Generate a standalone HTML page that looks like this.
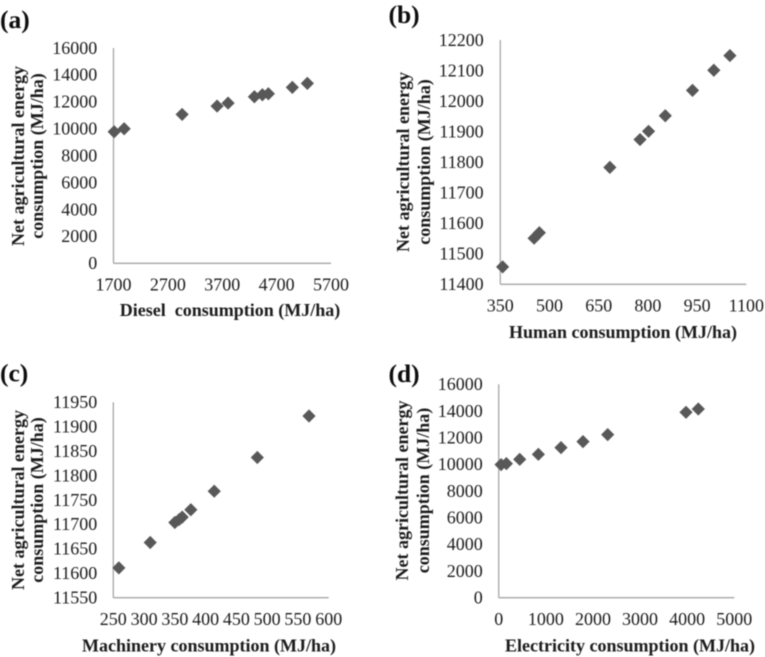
<!DOCTYPE html>
<html>
<head>
<meta charset="utf-8">
<style>
html,body{margin:0;padding:0;background:#fff;width:765px;height:657px;overflow:hidden}
svg{display:block}
text{font-family:"Liberation Serif",serif;fill:#1f1f1f}
.tick{font-size:18px}
.title{font-size:18px;font-weight:bold}
.panel{font-size:25.5px;font-weight:bold;fill:#111}
</style>
</head>
<body>
<svg id="figure" xmlns="http://www.w3.org/2000/svg" width="765" height="657" viewBox="0 0 765 657">
<defs><filter id="soft" x="-5%" y="-5%" width="110%" height="110%"><feGaussianBlur stdDeviation="0.45"/></filter></defs>
<g id="root" filter="url(#soft)"></g>
</svg>
<script>
// (a) Diesel
const dieselX = [1712,1896,2962,3605,3807,4291,4438,4548,4989,5265];
const dieselY = [9774,9997,11064,11684,11907,12378,12527,12602,13073,13370];
const dieselXTicks = [1700,2700,3700,4700,5700];
const dieselYTicks = [0,2000,4000,6000,8000,10000,12000,14000,16000];
// (b) Human
const humanX = [357,453,469,684,776,802,853,936,1001,1050];
const humanY = [11457,11551,11569,11783,11874,11901,11952,12035,12101,12149];
const humanXTicks = [350,500,650,800,950,1100];
const humanYTicks = [11400,11500,11600,11700,11800,11900,12000,12100,12200];
// (c) Machinery
const machineryX = [259,310,350,357,362,376,414,484,568];
const machineryY = [11611,11663,11704,11710,11715,11730,11768,11837,11922];
const machineryXTicks = [250,300,350,400,450,500,550,600];
const machineryYTicks = [11550,11600,11650,11700,11750,11800,11850,11900,11950];
// (d) Electricity
const electricityX = [50,163,446,842,1322,1789,2313,3975,4236];
const electricityY = [9975,10050,10375,10750,11250,11700,12225,13900,14150];
const electricityXTicks = [0,1000,2000,3000,4000,5000];
const electricityYTicks = [0,2000,4000,6000,8000,10000,12000,14000,16000];

const NS = 'http://www.w3.org/2000/svg';
const root = document.getElementById('root');

function make(tag, parent, attrs, txt) {
  const el = document.createElementNS(NS, tag);
  for (const k in attrs) el.setAttribute(k, attrs[k]);
  if (txt !== undefined) el.textContent = txt;
  parent.appendChild(el);
  return el;
}

function drawPanel(p) {
  const g = make('g', root, {});
  
  

  const xs = p.xTicks, ys = p.yTicks;
  const xMin = xs[0], xMax = xs[xs.length - 1];
  const yMin = ys[0], yMax = ys[ys.length - 1];
  const sx = v => p.left + (v - xMin) / (xMax - xMin) * (p.right - p.left);
  const sy = v => p.bottom - (v - yMin) / (yMax - yMin) * (p.bottom - p.top);

  const label = make('text', g, {class: 'panel', x: p.tagX, y: p.tagY}, p.tag);
  
  

  const yAxis = make('line', g, {x1: p.left, x2: p.left, y1: p.top, y2: p.bottom, stroke: '#a6a6a6', 'stroke-width': 1.3});
  
  

  const xAxis = make('line', g, {x1: p.left, x2: p.right, y1: p.bottom, y2: p.bottom, stroke: '#a6a6a6', 'stroke-width': 1.3});
  
  

  xs.forEach(function (v) {
    const t = make('text', g, {class: 'tick', x: sx(v), y: p.xLabelY, 'text-anchor': 'middle'}, String(v));
    
    
  });
  ys.forEach(function (v) {
    const t = make('text', g, {class: 'tick', x: p.yLabelX, y: sy(v) + 5.8, 'text-anchor': 'end'}, String(v));
    
    
  });

  const xTitle = make('text', g, {class: 'title', x: p.xTitleX, y: p.xTitleY, 'text-anchor': 'middle', style: 'white-space:pre'}, p.xTitle);
  
  

  const yTitle1 = make('text', g, {class: 'title', 'text-anchor': 'middle', transform: 'translate(' + p.yTitle1X + ',' + p.yTitleCY + ') rotate(-90)'}, 'Net agricultural energy');
  
  

  const yTitle2 = make('text', g, {class: 'title', 'text-anchor': 'middle', transform: 'translate(' + p.yTitle2X + ',' + p.yTitleCY + ') rotate(-90)'}, 'consumption (MJ/ha)');
  
  

  const r = 6.6;
  p.xData.forEach(function (v, i) {
    const cx = sx(v), cy = sy(p.yData[i]);
    const pts = [cx, cy - r, cx + r, cy, cx, cy + r, cx - r, cy].join(' ');
    const d = make('polygon', g, {points: pts, fill: '#595959'});
    
    
  });
}

drawPanel({key: 'diesel', tag: '(a)', tagX: 0, tagY: 28, left: 113.5, right: 331, top: 48, bottom: 263.3,
  xTicks: dieselXTicks, yTicks: dieselYTicks, xData: dieselX, yData: dieselY,
  xLabelY: 290.5, yLabelX: 97.3, xTitle: 'Diesel  consumption (MJ/ha)', xTitleX: 230, xTitleY: 316,
  yTitle1X: 24, yTitle2X: 43, yTitleCY: 156});
drawPanel({key: 'human', tag: '(b)', tagX: 388.5, tagY: 23, left: 500.3, right: 746.3, top: 40, bottom: 284.3,
  xTicks: humanXTicks, yTicks: humanYTicks, xData: humanX, yData: humanY,
  xLabelY: 311.5, yLabelX: 483.7, xTitle: 'Human consumption (MJ/ha)', xTitleX: 623, xTitleY: 338,
  yTitle1X: 409, yTitle2X: 430, yTitleCY: 162});
drawPanel({key: 'machinery', tag: '(c)', tagX: 0, tagY: 381.5, left: 113.3, right: 328.7, top: 402.3, bottom: 597.7,
  xTicks: machineryXTicks, yTicks: machineryYTicks, xData: machineryX, yData: machineryY,
  xLabelY: 625, yLabelX: 97.3, xTitle: 'Machinery consumption (MJ/ha)', xTitleX: 209, xTitleY: 651.5,
  yTitle1X: 24, yTitle2X: 43, yTitleCY: 500});
drawPanel({key: 'electricity', tag: '(d)', tagX: 388.5, tagY: 382, left: 498.7, right: 734.3, top: 384.3, bottom: 597.7,
  xTicks: electricityXTicks, yTicks: electricityYTicks, xData: electricityX, yData: electricityY,
  xLabelY: 625, yLabelX: 482.7, xTitle: 'Electricity consumption (MJ/ha)', xTitleX: 630, xTitleY: 651.5,
  yTitle1X: 408, yTitle2X: 429, yTitleCY: 490.5});
</script>
</body>
</html>
